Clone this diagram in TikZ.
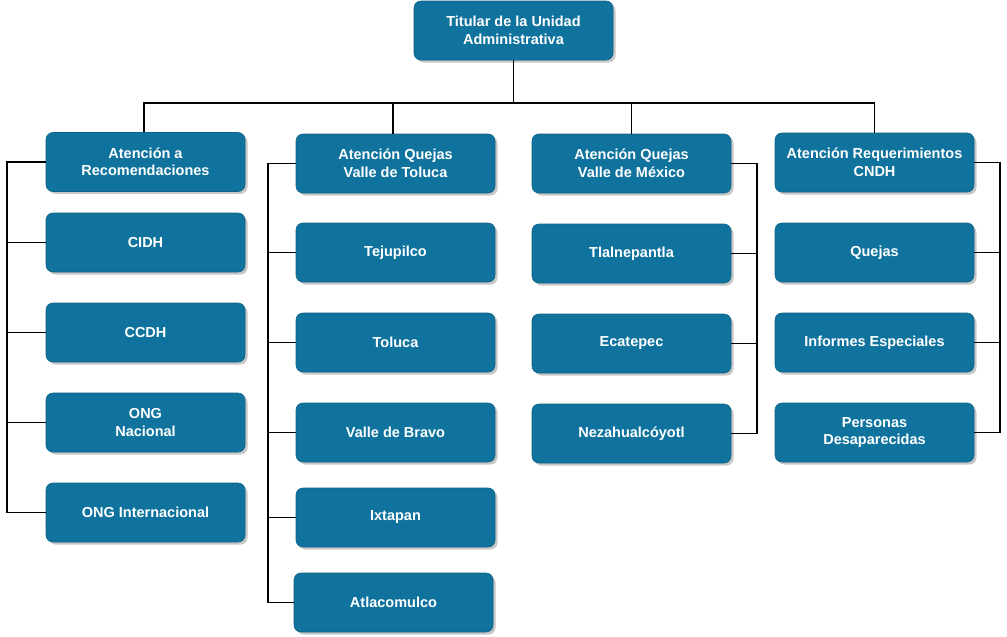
\documentclass[tikz,border=0pt]{standalone}
\usepackage{fontspec}
\setmainfont{Liberation Sans}
\usetikzlibrary{shadows}
\definecolor{boxblue}{HTML}{10739E}
\begin{document}
\begin{tikzpicture}[x=1pt,y=-1pt,
  box/.style={draw=boxblue!85!black, line width=0.6pt, fill=boxblue, rounded corners=7pt,
    minimum width=199pt, minimum height=59pt, inner sep=2pt, align=center,
    text=white, font=\fontsize{14.5}{17.5}\selectfont\bfseries,
    drop shadow={shadow xshift=2.5pt, shadow yshift=-2.5pt, fill=black, opacity=0.22}},
  conn/.style={draw=black, line width=1.8pt}]
\useasboundingbox (0,0) rectangle (1007,637);
% top
\node[box] (top) at (513.5,30.5) {Titular de la Unidad\\Administrativa};
% column heads
\node[box] (h1) at (145.5,162) {Atención a\\Recomendaciones};
\node[box] (h2) at (395.5,163.5) {Atención Quejas\\Valle de Toluca};
\node[box] (h3) at (631.5,163.5) {Atención Quejas\\Valle de México};
\node[box] (h4) at (874.5,162.5) {Atención Requerimientos\\CNDH};
% column 1
\node[box] (c11) at (145.5,242.5) {CIDH};
\node[box] (c12) at (145.5,332.5) {CCDH};
\node[box] (c13) at (145.5,422.5) {ONG\\Nacional};
\node[box] (c14) at (145.5,512.5) {ONG Internacional};
% column 2
\node[box] (c21) at (395.5,252.5) {Tejupilco};
\node[box] (c22) at (395.5,342.5) {Toluca};
\node[box] (c23) at (395.5,432.5) {Valle de Bravo};
\node[box] (c24) at (395.5,517.5) {Ixtapan};
\node[box] (c25) at (393.5,602.5) {Atlacomulco};
% column 3
\node[box] (c31) at (631.5,253.5) {Tlalnepantla};
\node[box] (c32) at (631.5,343.5) {Ecatepec};
\node[box] (c33) at (631.5,433.5) {Nezahualcóyotl};
% column 4
\node[box] (c41) at (874.5,252.5) {Quejas};
\node[box] (c42) at (874.5,342.5) {Informes Especiales};
\node[box] (c43) at (874.5,432.5) {Personas\\Desaparecidas};
% bus
\coordinate (bus) at (0,103);
\coordinate (L1) at (7,0);
\coordinate (L2) at (268,0);
\coordinate (R3) at (757,0);
\coordinate (R4) at (1000,0);
\draw[conn] (top.south) -- (top.south |- bus);
\draw[conn] ([xshift=-1.5pt]h1.north) -- ([xshift=-1.5pt]h1.north |- bus) -- (h4.north |- bus) -- (h4.north);
\draw[conn] ([xshift=-2.5pt]h2.north) -- ([xshift=-2.5pt]h2.north |- bus);
\draw[conn] (h3.north) -- (h3.north |- bus);
% column 1 bracket
\draw[conn] (h1.west) -- (h1.west -| L1) -- (c14.west -| L1) -- (c14.west);
\foreach \n in {c11,c12,c13} \draw[conn] (\n.west -| L1) -- (\n.west);
% column 2 bracket
\draw[conn] (h2.west) -- (h2.west -| L2) -- (c25.west -| L2) -- (c25.west);
\foreach \n in {c21,c22,c23,c24} \draw[conn] (\n.west -| L2) -- (\n.west);
% column 3 bracket
\draw[conn] (h3.east) -- (h3.east -| R3) -- (c33.east -| R3) -- (c33.east);
\foreach \n in {c31,c32} \draw[conn] (\n.east -| R3) -- (\n.east);
% column 4 bracket
\draw[conn] (h4.east) -- (h4.east -| R4) -- (c43.east -| R4) -- (c43.east);
\foreach \n in {c41,c42} \draw[conn] (\n.east -| R4) -- (\n.east);
\end{tikzpicture}
\end{document}
